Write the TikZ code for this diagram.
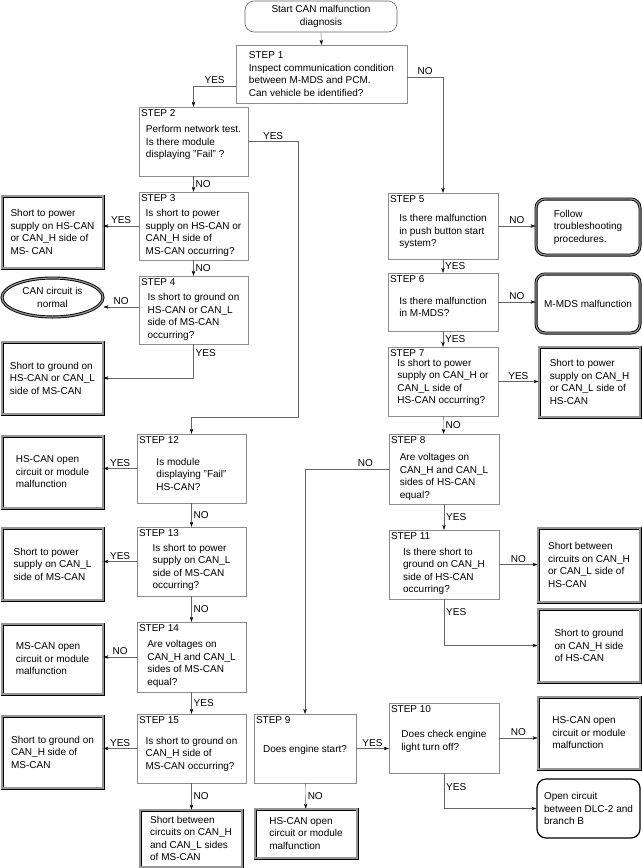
\documentclass[tikz,border=0pt]{standalone}
\usepackage{fontspec}
\setmainfont{Liberation Sans}
\usepackage{tikz}
\usetikzlibrary{shapes.geometric, arrows.meta, positioning, calc}
\definecolor{stepgray}{RGB}{140, 140, 140}
\definecolor{flowgray}{RGB}{100, 100, 100}
\definecolor{gapgray}{RGB}{150, 150, 150}
\newcommand{\qpad}[1]{\rule{0pt}{#1}}

\tikzset{
  every node/.append style={font=\fontsize{10}{12.5}\selectfont},
  stepbox/.style={draw=stepgray, minimum width=109pt, minimum height=69pt, align=left, inner sep=0pt},
  steptag/.style={label={[anchor=north west, inner xsep=2pt, inner ysep=3pt]north west:STEP #1}},
  resbox/.style={draw=black, line width=0.9pt, double=gapgray, double distance=1.2pt,
    minimum width=101pt, minimum height=72pt, align=left, inner sep=0pt},
  endbox/.style={resbox, rounded corners=9pt},
  flow/.style={draw=flowgray, -{Stealth[length=5pt, width=3.4pt, color=black]}},
  ans/.style={inner sep=2pt}
}

\begin{document}
\begin{tikzpicture}[x=1pt, y=-1pt]
  \useasboundingbox (0,0) rectangle (641,868);

  % top
  \node[draw=flowgray, line width=0.6pt, rounded corners=9pt, minimum width=152pt, minimum height=31pt,
    align=center, inner sep=0pt] (start) at (321,16.5) {Start CAN malfunction\\diagnosis};
  \node[stepbox, minimum width=171pt, minimum height=58pt] (s1) at (321.5,74)
    {STEP 1\\Inspect communication condition\\between M-MDS and PCM.\\Can vehicle be identified?};

  % left column
  \node[stepbox, steptag=2] (s2) at (193.5,141.5)
    {\qpad{10pt}Perform network test.\\Is there module\\displaying "Fail" ?};
  \node[stepbox, steptag=3, minimum height=68pt] (s3) at (193.5,226)
    {\qpad{21pt}Is short to power\\supply on HS-CAN or\\CAN\_H side of\\MS-CAN occurring?};
  \node[stepbox, steptag=4, minimum height=68pt] (s4) at (193.5,310)
    {\qpad{21pt}Is short to ground on\\HS-CAN or CAN\_L\\side of MS-CAN\\occurring?};
  \node[resbox] (r3) at (52.5,232)
    {Short to power\\supply on HS-CAN\\or CAN\_H side of\\MS- CAN};
  \node[draw=black, line width=0.9pt, double=gapgray, double distance=1.2pt, ellipse,
    minimum width=101pt, minimum height=39pt, inner sep=0pt, align=center]
    (e4) at (52.5,297.5) {CAN circuit is\\normal};
  \node[resbox] (r4) at (52.5,378)
    {Short to ground on\\HS-CAN or CAN\_L\\side of MS-CAN};

  \node[stepbox, steptag=12] (s12) at (191.5,468.5)
    {\qpad{19pt}Is module\\displaying "Fail"\\HS-CAN?};
  \node[stepbox, steptag=13] (s13) at (191.5,561.5)
    {\qpad{19pt}Is short to power\\supply on CAN\_L\\side of MS-CAN\\occurring?};
  \node[stepbox, steptag=14, minimum height=70pt] (s14) at (191.5,657)
    {\qpad{21pt}Are voltages on\\CAN\_H and CAN\_L\\sides of MS-CAN\\equal?};
  \node[stepbox, steptag=15] (s15) at (191.5,748.5)
    {\qpad{19pt}Is short to ground on\\CAN\_H side of\\MS-CAN occurring?};
  \node[resbox] (r12) at (52.5,472)
    {HS-CAN open\\circuit or module\\malfunction};
  \node[resbox] (r13) at (52.5,564)
    {Short to power\\supply on CAN\_L\\side of MS-CAN};
  \node[resbox, minimum height=70pt] (r14) at (52.5,659)
    {MS-CAN open\\circuit or module\\malfunction};
  \node[resbox] (r15) at (52.5,752)
    {Short to ground on\\CAN\_H side of\\MS-CAN};
  \node[resbox, minimum width=102pt, minimum height=57pt] (r15b) at (191,838.5)
    {Short between\\circuits on CAN\_H\\and CAN\_L sides\\of MS-CAN};

  % right column
  \node[stepbox, steptag=5, minimum width=110pt, minimum height=66pt] (s5) at (443,226)
    {\qpad{19pt}Is there malfunction\\in push button start\\system?};
  \node[stepbox, steptag=6, minimum width=110pt, minimum height=58pt] (s6) at (443,302)
    {\qpad{17pt}Is there malfunction\\in M-MDS?};
  \node[stepbox, steptag=7, minimum width=110pt] (s7) at (443,381.5)
    {\qpad{9pt}Is short to power\\supply on CAN\_H or\\CAN\_L side of\\HS-CAN occurring?};
  \node[stepbox, steptag=8, minimum width=110pt, minimum height=70pt] (s8) at (444,469)
    {\qpad{23pt}Are voltages on\\CAN\_H and CAN\_L\\sides of HS-CAN\\equal?};
  \node[stepbox, steptag=11, minimum width=110pt] (s11) at (444,564.5)
    {\qpad{21pt}Is there short to\\ground on CAN\_H\\side of HS-CAN\\occurring?};
  \node[endbox, minimum width=104pt, minimum height=56pt] (r5) at (588,227)
    {Follow\\troubleshooting\\procedures.};
  \node[endbox, minimum width=104pt, minimum height=59pt] (r6) at (588,303.5)
    {M-MDS malfunction};
  \node[resbox, minimum height=70pt] (r7) at (589.5,382)
    {Short to power\\supply on CAN\_H\\or CAN\_L side of\\HS-CAN};
  \node[resbox, minimum width=102pt, minimum height=74pt] (r11) at (589,565)
    {Short between\\circuits on CAN\_H\\or CAN\_L side of\\HS-CAN};
  \node[resbox, minimum width=102pt, minimum height=73pt] (r11b) at (589,645.5)
    {Short to ground\\on CAN\_H side\\of HS-CAN};

  % bottom middle
  \node[stepbox, steptag=9, minimum width=102pt] (s9) at (305,748.5)
    {\qpad{10pt}Does engine start?};
  \node[stepbox, steptag=10, minimum width=110pt, minimum height=70pt] (s10) at (444,738)
    {\qpad{14pt}Does check engine\\light turn off?};
  \node[resbox, minimum width=102pt, minimum height=49pt] (r9) at (306,833.5)
    {HS-CAN open\\circuit or module\\malfunction};
  \node[resbox, minimum width=102pt] (r10) at (589,733)
    {HS-CAN open\\circuit or module\\malfunction};
  \node[draw=black, line width=1.2pt, rounded corners=9pt, minimum width=103pt, minimum height=59pt,
    align=left, inner sep=0pt] (r10b) at (588.5,808.5)
    {Open circuit\\between DLC-2 and\\branch B};

  % connectors
  \draw[flow] (start.south) -- (s1.north);
  \draw[flow] ([yshift=-12pt]s1.west) -| (s2.north) node[ans, above, pos=0.25] (y1) {YES};
  \draw[flow] ([yshift=-3pt]s1.east) -| (s5.north) node[ans, above, pos=0.25] (n1) {NO};
  \coordinate (j2) at (298,417);
  \draw[flow] (s2.east) -| (j2) node[ans, above, pos=0.25] (y2) {YES} -| (s12.north);
  \draw[flow] (s2) -- (s3) node[ans, right, midway] (n2) {NO};
  \draw[flow] (s3.west) -- (s3.west -| r3.east) node[ans, above, midway] (y3) {YES};
  \draw[flow] (s3) -- (s4) node[ans, right, midway] (n3) {NO};
  \draw[flow] ([yshift=3pt]s4.west) -- ([yshift=3pt]s4.west -| e4.east) node[ans, above, midway] (n4) {NO};
  \draw[flow] (s4.south) |- (r4.east) node[ans, right, pos=0.13] (y4) {YES};
  \draw[flow] (s12.west) -- (s12.west -| r12.east) node[ans, above, midway] (y12) {YES};
  \draw[flow] (s12) -- (s13) node[ans, right, midway] (n12) {NO};
  \draw[flow] (s13.west) -- (s13.west -| r13.east) node[ans, above, midway] (y13) {YES};
  \draw[flow] (s13) -- (s14) node[ans, right, midway] (n13) {NO};
  \draw[flow] (s14.west) -- (s14.west -| r14.east) node[ans, above, midway] (n14) {NO};
  \draw[flow] (s14) -- (s15) node[ans, right, midway] (y14) {YES};
  \draw[flow] (s15.west) -- (s15.west -| r15.east) node[ans, above, midway] (y15) {YES};
  \draw[flow] (s15.south) -- (s15.south |- r15b.north) node[ans, right, midway] (n15) {NO};
  \draw[flow] (s5.east) -- (s5.east -| r5.west) node[ans, above, midway] (n5) {NO};
  \draw[flow] (s5) -- (s6) node[ans, right, midway] (y5) {YES};
  \draw[flow] (s6.east) -- (s6.east -| r6.west) node[ans, above, midway] (n6) {NO};
  \draw[flow] (s6) -- (s7) node[ans, right, midway] (y6) {YES};
  \draw[flow] (s7.east) -- (s7.east -| r7.west) node[ans, above, midway] (y7) {YES};
  \draw[flow] (s7) -- (s8) node[ans, right, midway] (n7) {NO};
  \draw[flow] (s8.west) -| (s9.north) node[ans, above, pos=0.14] (n8) {NO};
  \draw[flow] (s8) -- (s11) node[ans, right, midway] (y8) {YES};
  \draw[flow] (s11.east) -- (s11.east -| r11.west) node[ans, above, midway] (n11) {NO};
  \draw[flow] (s11.south) |- (r11b.west) node[ans, right, pos=0.14] (y11) {YES};
  \draw[flow] (s9.east) -- (s9.east -| s10.west) node[ans, above, midway] (y9) {YES};
  \draw[flow] (s9) -- (r9) node[ans, right, midway] (n9) {NO};
  \draw[flow] (s10.east) -- (s10.east -| r10.west) node[ans, above, midway] (n10) {NO};
  \draw[flow] (s10.south) |- (r10b.west) node[ans, right, pos=0.2] (y10) {YES};
\end{tikzpicture}
\end{document}
